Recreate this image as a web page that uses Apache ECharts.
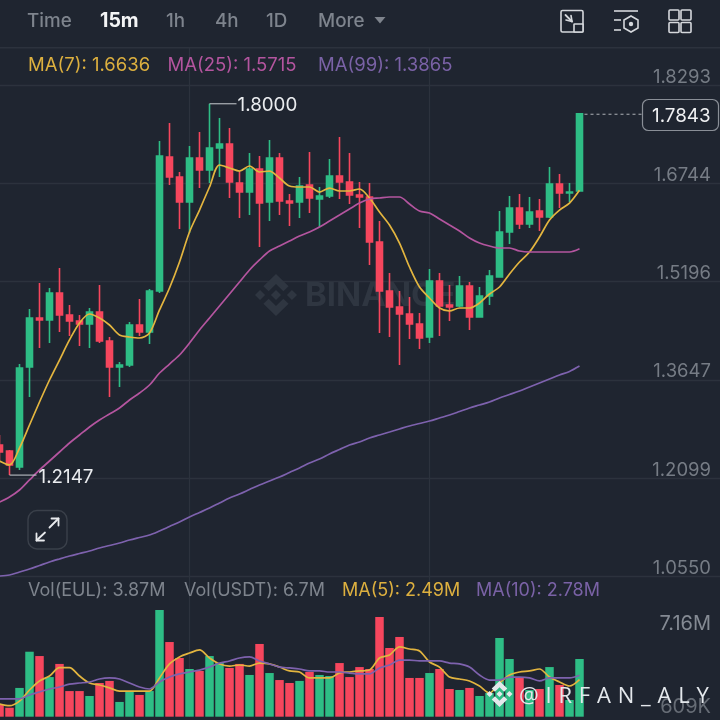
<!DOCTYPE html>
<html><head><meta charset="utf-8">
<style>html,body{margin:0;padding:0;background:#1F2530}#c{width:720px;height:720px;position:relative;overflow:hidden}
#wm{position:absolute;left:519px;top:677px;font:400 22px/34px "Open Sans",sans-serif;letter-spacing:6.8px;color:#E4E8EC;white-space:nowrap;z-index:5}</style>
<script src="https://cdn.jsdelivr.net/npm/echarts@6/dist/echarts.min.js"></script>
</head><body><div id="c"><div id="m" style="width:720px;height:720px"></div><div id="wm">@IRFAN_ALY</div></div>
<script>
const priceTicks=[1.0550,1.2099,1.3647,1.5196,1.6744,1.8293];
const volumeTicks=[0.609,7.16];
const volumeTickLabels=['609K','7.16M'];
const timeframes=['Time','15m','1h','4h','1D','More'];
const opens=[1.2622,1.2527,1.2275,1.3851,1.4623,1.4592,1.5017,1.4671,1.4576,1.4529,1.4718,1.4261,1.3851,1.3883,1.4513,1.4403,1.5049,1.7162,1.6846,1.6451,1.7146,1.6956,1.7304,1.7366,1.6751,1.6609,1.6972,1.6451,1.7146,1.6467,1.6451,1.6720,1.6499,1.6546,1.6862,1.6767,1.6562,1.6531,1.5821,1.5049,1.4797,1.4686,1.4529,1.4324,1.5206,1.4828,1.4813,1.5128,1.4639,1.4970,1.5270,1.5979,1.6357,1.6105,1.6310,1.6215,1.6735,1.6594,1.6625];
const closes=[1.2511,1.2307,1.3835,1.4623,1.4592,1.5017,1.4671,1.4576,1.4529,1.4718,1.4261,1.3851,1.3883,1.4513,1.4403,1.5049,1.7177,1.6846,1.6451,1.7146,1.6956,1.7304,1.7366,1.6767,1.6609,1.6972,1.6435,1.7146,1.6467,1.6435,1.6704,1.6515,1.6546,1.6862,1.6767,1.6562,1.6531,1.5821,1.5049,1.4797,1.4686,1.4529,1.4308,1.5206,1.4813,1.4797,1.5128,1.4639,1.4970,1.5286,1.5979,1.6357,1.6105,1.6294,1.6215,1.6735,1.6594,1.6609,1.7843];
const highs=[1.2779,1.2543,1.3898,1.4765,1.5175,1.5096,1.5411,1.4828,1.4671,1.4781,1.5143,1.4324,1.3930,1.4560,1.4923,1.5080,1.7414,1.7698,1.6925,1.7335,1.7556,1.8000,1.7776,1.7618,1.6925,1.7225,1.7177,1.7429,1.7225,1.6578,1.6846,1.7240,1.6688,1.7130,1.7477,1.7225,1.6767,1.6751,1.6152,1.5333,1.5049,1.4954,1.4702,1.5396,1.5333,1.5143,1.5286,1.5191,1.5112,1.5380,1.6310,1.6546,1.6578,1.6531,1.6499,1.7004,1.6893,1.6751,1.7843];
const lows=[1.2385,1.2147,1.2228,1.3378,1.4151,1.4229,1.4403,1.4340,1.4182,1.4151,1.4229,1.3378,1.3536,1.3851,1.4340,1.4214,1.5017,1.6720,1.6026,1.5963,1.6672,1.6751,1.6846,1.6515,1.6199,1.6246,1.5742,1.6152,1.6246,1.6073,1.6199,1.6278,1.6058,1.6515,1.6499,1.6420,1.6042,1.5459,1.4387,1.4324,1.3883,1.4292,1.4135,1.4229,1.4340,1.4576,1.4797,1.4434,1.4639,1.4828,1.5270,1.5790,1.6026,1.6042,1.5995,1.6199,1.6357,1.6451,1.6625];
const ma7=[1.2370,1.2307,1.2574,1.2937,1.3299,1.3646,1.3961,1.4277,1.4545,1.4686,1.4623,1.4513,1.4355,1.4324,1.4308,1.4387,1.4750,1.5096,1.5506,1.5979,1.6325,1.6688,1.7035,1.6988,1.6940,1.7019,1.6925,1.6940,1.6830,1.6704,1.6688,1.6688,1.6609,1.6672,1.6625,1.6625,1.6657,1.6515,1.6294,1.6089,1.5805,1.5427,1.5112,1.4939,1.4781,1.4734,1.4781,1.4781,1.4860,1.5002,1.5112,1.5317,1.5506,1.5664,1.5900,1.6168,1.6325,1.6435,1.6636];
const ma25=[1.1722,1.1802,1.1912,1.2070,1.2228,1.2369,1.2511,1.2653,1.2779,1.2905,1.3015,1.3110,1.3205,1.3331,1.3441,1.3567,1.3756,1.3898,1.4040,1.4229,1.4434,1.4623,1.4813,1.5002,1.5191,1.5380,1.5538,1.5679,1.5758,1.5837,1.5916,1.5979,1.6058,1.6152,1.6246,1.6341,1.6435,1.6499,1.6515,1.6531,1.6531,1.6420,1.6310,1.6278,1.6184,1.6089,1.5995,1.5884,1.5805,1.5758,1.5727,1.5727,1.5679,1.5664,1.5664,1.5664,1.5664,1.5664,1.5715];
const ma99=[1.0556,1.0572,1.0619,1.0667,1.0722,1.0777,1.0825,1.0871,1.0911,1.0950,1.0998,1.1037,1.1076,1.1123,1.1163,1.1202,1.1266,1.1337,1.1408,1.1487,1.1557,1.1628,1.1707,1.1786,1.1849,1.1920,1.1991,1.2054,1.2117,1.2188,1.2259,1.2338,1.2401,1.2480,1.2551,1.2622,1.2669,1.2732,1.2779,1.2826,1.2874,1.2921,1.2960,1.2999,1.3047,1.3094,1.3149,1.3205,1.3252,1.3299,1.3362,1.3417,1.3473,1.3536,1.3599,1.3662,1.3725,1.3780,1.3865];
const volumes=[0.79,0.60,1.93,4.36,4.07,2.66,3.54,1.72,1.72,1.39,2.26,2.40,0.99,1.66,1.46,1.72,7.16,5.01,3.94,3.20,3.07,4.07,3.60,3.27,3.54,2.80,4.88,2.93,2.46,2.26,2.40,3.00,2.80,2.73,3.60,2.66,3.33,3.20,6.69,4.61,5.35,2.60,2.60,2.93,3.20,1.86,1.79,1.93,1.39,1.59,5.28,3.87,2.66,1.79,1.86,3.33,2.13,1.12,3.87];
const volMa5=[0.85,0.74,1.05,1.79,2.40,2.73,3.29,3.29,2.73,2.26,2.13,1.93,1.72,1.72,1.72,1.72,2.60,3.54,4.01,4.27,4.48,3.94,3.54,3.40,3.47,3.40,3.60,3.54,3.33,3.07,3.00,2.60,2.60,2.60,2.93,3.00,3.07,3.13,3.94,4.14,4.68,4.54,4.41,3.67,3.33,2.66,2.53,2.40,2.06,1.59,2.26,2.80,3.00,3.07,3.20,2.66,2.33,2.06,2.49];
const volMa10=[1.19,1.19,1.19,1.46,1.66,1.86,1.99,2.19,2.26,2.33,2.53,2.60,2.53,2.26,1.99,1.86,2.33,2.66,2.87,3.00,3.13,3.33,3.60,3.74,3.94,4.01,3.74,3.54,3.33,3.27,3.20,3.07,3.07,3.00,3.00,2.93,2.87,2.87,3.27,3.47,3.80,3.80,3.74,3.74,3.74,3.60,3.54,3.33,2.80,2.46,2.46,2.66,2.66,2.60,2.40,2.60,2.60,2.60,2.78];
const highIndex=21, lowIndex=1, lastIndex=58, crossIndices=[19,43];
const categories=Array.from({length:73},(_,i)=>i);

const BG='#1F2530',GRID='#2C323D',UP='#2EBD85',DOWN='#F6465D',YEL='#E3B53F',MAG='#B4559F',PUR='#7E62AE';
const FONT='Inter, "Noto Sans", sans-serif';
const chart=echarts.init(document.getElementById('m'),null,{renderer:'canvas'});
const line=(name,data,color,x,y)=>({name,type:'line',data,xAxisIndex:x,yAxisIndex:y,symbol:'none',smooth:0.3,lineStyle:{color,width:1.7},itemStyle:{color},z:3,animation:false,silent:true});
chart.setOption({
  backgroundColor:BG,animation:false,
  grid:[{left:-5.5,top:85.2,width:730,height:491.2,outerBoundsMode:'none'},{left:-5.5,top:600,width:730,height:116.7,outerBoundsMode:'none'}],
  xAxis:[{type:'category',data:categories,gridIndex:0,show:false},{type:'category',data:categories,gridIndex:1,show:false}],
  yAxis:[
    {type:'value',gridIndex:0,position:'right',min:priceTicks[0],max:priceTicks[5],scale:true,
     axisLine:{show:false},
     axisTick:{show:false,customValues:priceTicks},
     splitLine:{show:true,lineStyle:{color:GRID,width:1.4}},
     axisLabel:{inside:true,margin:13.5,customValues:priceTicks,color:'#767C85',fontSize:18.5,fontFamily:FONT,verticalAlign:'bottom',lineHeight:16,formatter:v=>v.toFixed(4)}},
    {type:'value',gridIndex:1,min:0,max:7.83,show:false,splitLine:{show:false}}
  ],
  series:[
    {name:'Price',type:'candlestick',xAxisIndex:0,yAxisIndex:0,barWidth:7,clip:true,z:2,
     data:opens.map((o,i)=>[o,closes[i],lows[i],highs[i]]),
     itemStyle:{color:UP,color0:DOWN,borderColor:UP,borderColor0:DOWN,borderWidth:1.6}},
    line('MA(7)',ma7,YEL,0,0),line('MA(25)',ma25,MAG,0,0),line('MA(99)',ma99,PUR,0,0),
    {name:'Volume',type:'bar',xAxisIndex:1,yAxisIndex:1,barWidth:8.5,z:2,
     data:volumes.map((v,i)=>({value:v,itemStyle:{color:closes[i]>=opens[i]?UP:DOWN}}))},
    line('Vol MA(5)',volMa5,YEL,1,1),line('Vol MA(10)',volMa10,PUR,1,1)
  ]
});
const P=(x,v)=>chart.convertToPixel({xAxisIndex:0,yAxisIndex:0},[x,v]);
const V=(x,v)=>chart.convertToPixel({xAxisIndex:1,yAxisIndex:1},[x,v]);
const txt=(text,x,y,fill,size,opts={})=>({type:'text',silent:true,z:opts.z||20,style:{text,x,y,fill,font:`${opts.weight||400} ${size}px ${FONT}`,textAlign:opts.align||'left',textVerticalAlign:'middle',verticalAlign:'middle'}});
const seg=(x1,y1,x2,y2,stroke,w=1,z=1,dash)=>({type:'line',silent:true,z,shape:{x1,y1,x2,y2},style:{stroke,lineWidth:w,lineDash:dash}});
const poly=(pts,style,z)=>({type:'polygon',silent:true,z,shape:{points:pts},style});
const pl=(pts,stroke,w,z=20)=>({type:'polyline',silent:true,z,shape:{points:pts},style:{stroke,lineWidth:w,fill:'none',lineCap:'round',lineJoin:'round'}});
const rct=(x,y,w,h,r,stroke,lw,z=20,fill='none')=>({type:'rect',silent:true,z,shape:{x,y,width:w,height:h,r},style:{stroke,lineWidth:lw,fill}});
function logo(cx,cy,r,fill,z){
  const m=(pts)=>pts.map(p=>[cx+p[0]*r,cy+p[1]*r]);
  const d=(x,y,s)=>m([[x,y-s],[x+s,y],[x,y+s],[x-s,y]]);
  return [
    poly(m([[0,-1],[0.6,-0.42],[0.35,-0.18],[0,-0.52],[-0.35,-0.18],[-0.6,-0.42]]),{fill},z),
    poly(m([[0,1],[0.6,0.42],[0.35,0.18],[0,0.52],[-0.35,0.18],[-0.6,0.42]]),{fill},z),
    poly(d(-0.76,0,0.24),{fill},z),poly(d(0.76,0,0.24),{fill},z),poly(d(0,0,0.24),{fill},z)
  ];
}
const G=[];
G.push(seg(0,47.7,720,47.7,GRID,1.4));
crossIndices.forEach(i=>{const x=P(i,1.5)[0];G.push(seg(x,48,x,717,GRID,1.2));});
G.push(...logo(276,295,21,'#2F3641',1));
G.push({type:'text',silent:true,z:1,style:{text:'BINANCE',x:305,y:296,fill:'#2F3641',font:`700 33px ${FONT}`,verticalAlign:'middle'}});
const tfX=[27,100,166,215,266,318];
timeframes.forEach((t,i)=>G.push(txt(t,tfX[i],21,i===1?'#F4F5F6':'#7E848D',i===1?19.5:18.8,{weight:i===1?700:500})));
G.push(poly([[374.5,17],[385.5,17],[380,23.5]],{fill:'#7E848D'},20));
G.push(rct(561,10.5,22,21.5,1.5,'#D5D8DC',1.6));
G.push(rct(574,24,9,8,0.5,'#D5D8DC',1.6,21,BG));
G.push(pl([[565.5,15],[572,21.5]],'#D5D8DC',1.8),pl([[566,20],[572,21.5],[571,15.5]],'#D5D8DC',1.6));
G.push(seg(614,11,638,11,'#D5D8DC',1.6,20),seg(614,20,621,20,'#D5D8DC',1.6,20),seg(614,30,621,30,'#D5D8DC',1.6,20));
G.push(poly([[631,16],[638,20],[638,28],[631,32],[624,28],[624,20]],{stroke:'#D5D8DC',lineWidth:1.6,fill:'none'},20));
G.push({type:'circle',silent:true,z:20,shape:{cx:631,cy:24,r:2.2},style:{fill:'#D5D8DC'}});
[[669,10],[681,10],[669,22.5],[681,22.5]].forEach(([x,y])=>G.push(rct(x,y,10,10,1,'#D5D8DC',1.6)));
G.push(txt(`MA(7): ${ma7[lastIndex].toFixed(4)}`,28,65.5,'#DDB03F',18.5));
G.push(txt(`MA(25): ${ma25[lastIndex].toFixed(4)}`,167.5,65.5,'#B4559F',18.5));
G.push(txt(`MA(99): ${ma99[lastIndex].toFixed(4)}`,318,65.5,'#7A62A6',18.5));
G.push(txt('Vol(EUL): 3.87M',28,591,'#7E848D',18));
G.push(txt('Vol(USDT): 6.7M',184,591,'#7E848D',18));
G.push(txt(`MA(5): ${volMa5[lastIndex].toFixed(2)}M`,342,591,'#DDB03F',18));
G.push(txt(`MA(10): ${volMa10[lastIndex].toFixed(2)}M`,476,591,'#7A62A6',18));
const hi=P(highIndex,highs[highIndex]),lo=P(lowIndex,lows[lowIndex]);
G.push(seg(hi[0],hi[1],hi[0]+27,hi[1],'#C9CDD2',1,20),txt(highs[highIndex].toFixed(4),hi[0]+28,hi[1]+2,'#EAECEF',18.8));
G.push(seg(lo[0],lo[1],lo[0]+27,lo[1],'#C9CDD2',1,20),txt(lows[lowIndex].toFixed(4),lo[0]+29,lo[1]+2,'#EAECEF',18.8));
const la=P(lastIndex,closes[lastIndex]);
G.push(seg(la[0]+5,la[1]+0.5,642,la[1]+0.5,'#AEB2B8',1,20,[3,3]));
G.push(rct(642.5,99.5,76,31,6,'#8A8F97',1.2,21,BG));
G.push(txt(closes[lastIndex].toFixed(4),652,116.5,'#F0F1F3',18.8,{z:22}));
volumeTicks.forEach((v,i)=>{const y=V(0,v)[1];G.push(txt(volumeTickLabels[i],711,y+(i===0?-1:14),i===0?'#666C75':'#848A93',20,{align:'right'}));});
G.push(rct(28,510.5,39,38.5,9,'#3A404A',1.4));
G.push(pl([[36.5,540.5],[45,532.5]],'#E8EAED',1.8),pl([[36.5,533.5],[36.5,540.5],[44,540.5]],'#E8EAED',1.8));
G.push(pl([[49.5,527.5],[58.5,518.5]],'#E8EAED',1.8),pl([[51.5,518.5],[58.5,518.5],[58.5,525.5]],'#E8EAED',1.8));
G.push(...logo(499.5,694,13,'#E4E8EC',30));
chart.setOption({graphic:{elements:G}});
</script></body></html>
